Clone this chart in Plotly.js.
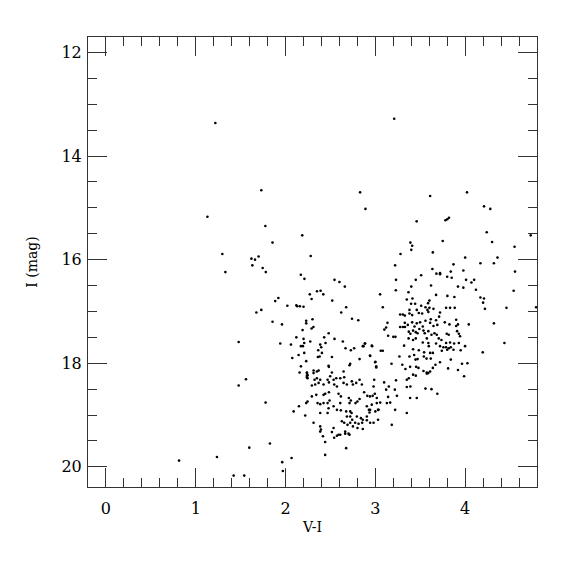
<!DOCTYPE html>
<html>
<head>
<meta charset="utf-8">
<script src="https://cdn.plot.ly/plotly-3.0.1.min.js"></script>
<style>html,body{margin:0;padding:0;background:#fff;}#chart{width:575px;height:575px;}</style>
</head>
<body>
<div id="chart"></div>
<script>
// V-I colour of each star
const vi = [
  // bright / blue side
  1.218,1.73,1.13,1.775,2.186,1.855,1.296,2.28,1.62,1.66,1.70,1.63,1.745,1.78,1.33,2.17,2.21,2.545,2.60,
  2.27,2.35,2.39,2.42,2.29,2.52,1.92,1.885,2.02,2.12,2.13,2.16,2.20,1.73,1.675,1.855,1.96,2.23,2.30,2.23,
  2.31,2.29,2.19,2.48,2.43,2.545,2.12,2.20,
  // upper red side
  3.21,2.83,4.02,3.61,2.89,4.21,4.28,3.46,3.78,3.80,3.82,4.24,4.73,3.39,3.41,3.40,3.75,4.30,4.55,3.64,
  3.28,4.00,4.36,4.32,4.17,3.22,3.87,4.555,3.635,3.68,3.72,3.72,3.84,3.80,3.85,3.98,3.51,3.45,3.23,4.01,
  4.07,4.10,3.62,3.40,3.92,3.98,4.12,4.54,2.66,4.17,4.21,4.20,4.22,4.46,4.79,2.675,2.62,2.74,2.81,4.32,
  // red giant clump
  3.053,3.228,3.369,3.676,3.802,3.88,3.35,3.413,3.443,3.398,3.602,3.587,3.083,3.51,3.558,3.602,3.647,
  3.788,3.832,3.884,3.38,3.461,3.484,3.521,3.276,3.306,3.328,3.38,3.41,3.58,3.59,3.72,3.71,3.617,
  3.135,3.12,3.10,3.328,3.361,3.41,3.436,3.461,3.498,3.528,3.558,3.61,3.647,3.676,3.69,3.773,3.825,
  3.90,3.92,3.90,4.04,3.276,3.306,3.33,3.372,3.39,3.42,3.45,3.47,3.49,3.536,3.55,3.59,3.625,3.658,3.684,
  3.142,3.20,3.224,3.37,3.42,3.45,3.795,3.817,3.91,3.93,3.943,3.573,3.528,3.706,3.736,3.788,3.832,3.877,3.93,
  2.883,2.868,2.964,3.06,3.083,3.32,3.59,3.595,3.676,3.72,3.758,3.788,3.817,3.84,3.42,3.484,3.543,3.61,3.64,
  3.74,3.80,3.87,3.95,3.999,2.94,3.268,3.38,3.432,3.447,3.47,3.00,3.01,3.18,3.30,3.54,3.57,3.617,3.72,
  3.669,3.64,3.61,3.573,3.536,3.48,3.454,3.387,3.335,3.84,3.81,3.92,3.965,4.025,3.42,3.45,3.372,3.35,
  3.573,3.59,2.85,2.987,2.98,3.098,3.15,3.12,3.23,3.39,3.35,3.558,3.625,3.69,3.988,2.875,2.91,2.97,2.994,
  2.94,3.016,3.217,3.24,3.387,3.461,3.142,4.437,4.196,3.35,
  // lower branch
  2.156,2.238,2.238,2.245,2.312,2.368,2.516,2.497,2.468,2.483,2.535,2.564,2.609,2.653,2.646,2.349,2.386,
  2.368,2.423,2.293,2.33,2.542,2.572,2.646,2.683,2.738,2.75,2.787,2.824,2.342,2.423,2.442,2.483,2.59,2.616,
  2.293,2.245,2.23,2.356,2.386,2.423,2.468,2.49,2.149,2.09,2.219,2.609,2.535,2.479,2.705,2.727,2.712,2.779,
  2.80,2.824,2.386,2.468,2.572,2.616,2.675,2.72,2.735,2.683,2.72,2.742,2.794,2.839,2.86,2.905,2.942,2.96,
  3.016,3.054,3.035,2.905,2.928,2.935,2.775,2.813,2.853,2.801,2.86,2.627,2.653,2.69,2.72,2.75,2.905,2.942,
  2.312,2.386,2.394,2.386,2.416,2.535,2.516,2.572,2.664,2.701,2.609,3.00,3.03,3.03,2.98,
  // lower branch, upper part
  1.941,2.06,2.171,2.193,2.208,2.275,2.145,2.075,2.208,2.23,2.171,2.445,2.386,2.397,2.364,2.405,2.379,2.36,
  2.638,2.516,2.479,2.482,2.668,2.727,2.764,2.824,2.72,2.712,2.86,2.886,2.96,2.942,2.998,3.01,2.238,2.238,
  2.245,2.312,2.349,2.323,3.183,3.128,3.165,3.22,
  // faint scattered stars
  1.478,1.559,1.478,1.778,0.814,1.236,1.596,1.826,1.422,1.54,1.963,2.067,1.97,2.441,2.441,2.541,2.59,
  2.664,2.712,2.675
];
// I magnitude of each star
const imag = [
  13.36,14.66,15.17,15.35,15.53,15.67,15.89,15.93,15.98,16.00,15.94,16.11,16.16,16.24,16.24,16.29,16.37,16.39,16.43,
  16.67,16.61,16.60,16.67,16.76,16.79,16.74,16.80,16.89,16.88,16.90,16.90,16.91,16.97,17.02,17.20,17.25,17.18,17.15,17.23,
  17.30,17.33,17.36,17.42,17.50,17.53,17.50,17.53,
  13.28,14.70,14.70,14.77,15.02,14.97,15.02,15.26,15.24,15.22,15.19,15.47,15.53,15.67,15.73,15.81,15.64,15.66,15.75,15.86,
  15.89,15.96,15.96,16.07,16.07,16.11,16.09,16.23,16.18,16.27,16.26,16.28,16.23,16.33,16.35,16.21,16.30,16.39,16.39,16.39,
  16.44,16.39,16.50,16.52,16.52,16.54,16.58,16.60,16.52,16.73,16.75,16.83,16.95,16.93,16.92,16.92,17.02,17.14,17.17,17.23,
  16.67,16.59,16.63,16.68,16.70,16.72,16.77,16.75,16.85,16.85,16.79,16.84,16.92,16.89,16.92,16.93,16.95,
  16.93,16.93,16.93,16.97,16.97,17.03,17.04,17.06,17.06,17.08,17.04,17.07,16.97,17.01,17.02,17.10,17.15,
  17.22,17.31,17.35,17.22,17.26,17.21,17.29,17.23,17.21,17.29,17.18,17.22,17.28,17.17,17.26,17.21,17.25,
  17.16,17.25,17.28,17.25,17.30,17.30,17.30,17.39,17.43,17.37,17.40,17.42,17.34,17.37,17.42,17.38,17.45,17.42,17.45,
  17.47,17.49,17.49,17.52,17.55,17.52,17.43,17.45,17.38,17.43,17.48,17.52,17.60,17.52,17.55,17.61,17.60,17.62,17.61,
  17.62,17.67,17.67,17.76,17.76,17.66,17.61,17.67,17.62,17.67,17.69,17.69,17.71,17.69,17.73,17.75,17.79,17.80,17.80,
  17.76,17.74,17.74,17.75,17.67,17.85,17.87,17.87,17.84,17.93,17.92,17.97,18.08,18.01,18.03,17.87,17.91,17.91,17.98,
  18.03,18.09,18.16,18.18,18.15,18.09,18.07,18.07,18.11,17.93,18.10,18.13,18.01,18.00,18.22,18.24,18.29,18.32,
  18.20,18.19,18.41,18.32,18.45,18.37,18.45,18.51,18.33,18.45,18.46,18.49,18.50,18.59,18.25,18.56,18.63,18.63,18.59,
  18.64,18.67,18.51,18.63,18.67,18.67,18.65,17.61,17.79,18.96,
  18.18,18.18,18.24,18.29,18.14,18.14,18.18,18.25,18.32,18.37,18.32,18.29,18.29,18.27,18.16,18.29,18.32,
  18.38,18.41,18.43,18.41,18.41,18.45,18.38,18.41,18.35,18.41,18.38,18.32,18.61,18.61,18.59,18.56,18.59,18.64,
  18.64,18.74,18.77,18.77,18.79,18.77,18.77,18.72,18.83,18.93,19.01,18.77,18.83,18.87,18.67,18.72,18.77,18.77,
  18.74,18.69,18.96,18.96,18.90,18.91,18.93,18.93,18.96,19.03,19.03,19.09,19.03,19.06,19.09,19.03,18.90,18.80,
  18.77,18.76,18.90,18.83,18.90,18.95,19.15,19.17,19.15,19.25,19.27,19.12,19.15,19.19,19.15,19.22,19.10,19.15,
  19.15,19.22,19.28,19.32,19.41,19.25,19.33,19.40,19.32,19.36,19.38,18.93,18.90,19.09,19.15,
  17.62,17.64,17.67,17.67,17.61,17.58,17.84,17.90,17.80,17.96,18.06,17.61,17.64,17.69,17.75,17.80,17.87,17.88,
  17.58,17.88,18.05,18.07,17.71,17.75,17.71,17.92,18.01,18.04,17.67,17.62,17.66,17.86,17.98,18.06,18.19,18.27,
  18.23,18.19,18.16,18.32,19.19,18.77,18.76,18.90,
  17.59,18.31,18.43,18.76,19.88,19.81,19.63,19.55,20.17,20.17,19.91,19.83,20.08,19.77,19.52,19.44,19.38,
  19.36,19.38,19.64
];
const xTickVals = [0, 1, 2, 3, 4];
const yTickVals = [12, 14, 16, 18, 20];
const xTitle = 'V-I';
const yTitle = 'I (mag)';

const font = 'DejaVu Serif, serif';
const axisCommon = {
  showline: true, linecolor: '#333', linewidth: 1, mirror: 'allticks',
  ticks: 'inside', ticklen: 19, tickwidth: 1, tickcolor: '#333',
  showgrid: false, zeroline: false,
  tickfont: {family: font, size: 16, color: '#000', weight: 500}
};
Plotly.newPlot('chart', [{
  type: 'scatter', mode: 'markers', x: vi, y: imag,
  marker: {size: 2.6, color: '#000', line: {width: 0}},
  hoverinfo: 'skip'
}], {
  width: 575, height: 575,
  margin: {l: 88, r: 38, t: 37, b: 88},
  paper_bgcolor: '#fff', plot_bgcolor: '#fff',
  showlegend: false,
  xaxis: Object.assign({}, axisCommon, {
    range: [-0.2, 4.8], tickvals: xTickVals, ticktext: xTickVals.map(String),
    ticklabelstandoff: 7,
    minor: {dtick: 0.2, tick0: 0, ticks: 'inside', ticklen: 9, tickcolor: '#333', tickwidth: 1},
    title: {text: xTitle, font: {family: font, size: 14, color: '#000'}, standoff: 4}
  }),
  yaxis: Object.assign({}, axisCommon, {
    range: [20.39, 11.7], tickvals: yTickVals, ticktext: yTickVals.map(String),
    ticklabelstandoff: 2,
    minor: {dtick: 0.5, tick0: 0, ticks: 'inside', ticklen: 9, tickcolor: '#333', tickwidth: 1},
    title: {text: yTitle, font: {family: font, size: 14, color: '#000'}, standoff: 20}
  })
}, {staticPlot: true, displayModeBar: false});
</script>
</body>
</html>
